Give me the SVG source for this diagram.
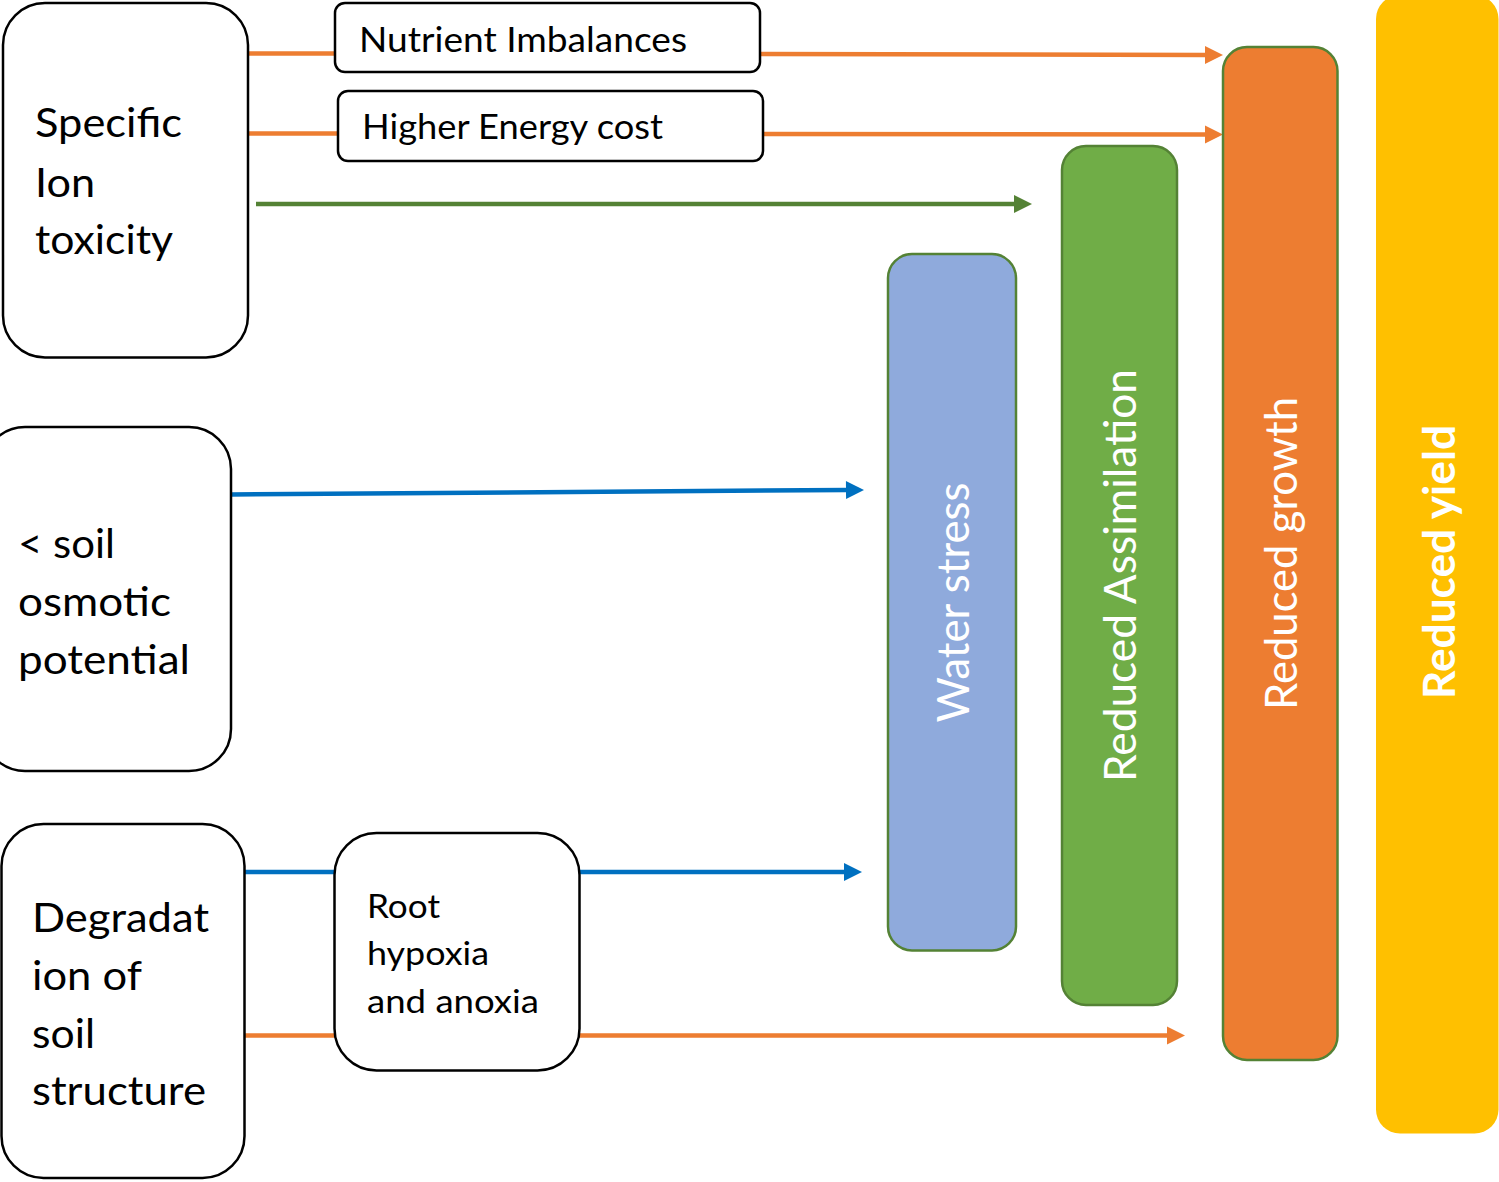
<svg xmlns="http://www.w3.org/2000/svg" width="1499" height="1182" viewBox="0 0 1499 1182">
<style>
.box{fill:#fff;stroke:#000;stroke-width:2.5}
.bar{stroke:#548235;stroke-width:2.5}
.t{font-family:Lato,"Noto Sans","Open Sans",sans-serif;fill:#000}
.big{font-size:40.5px}
.mid{font-size:35px}
.sm{font-size:32px}
.v{font-family:Lato,"Noto Sans","Open Sans",sans-serif;font-size:44.5px;fill:#fff}
.or{stroke:#ED7D31;stroke-width:4.5;fill:none}
.bl{stroke:#0070C0;stroke-width:4.5;fill:none}
.gr{stroke:#548235;stroke-width:4.5;fill:none}
</style>
<defs>
<marker id="aO" markerUnits="userSpaceOnUse" markerWidth="18" markerHeight="18" refX="1" refY="9" orient="auto" overflow="visible"><path d="M0,0 L18,9 L0,18 Z" fill="#ED7D31"/></marker>
<marker id="aB" markerUnits="userSpaceOnUse" markerWidth="18" markerHeight="18" refX="1" refY="9" orient="auto" overflow="visible"><path d="M0,0 L18,9 L0,18 Z" fill="#0070C0"/></marker>
<marker id="aG" markerUnits="userSpaceOnUse" markerWidth="18" markerHeight="18" refX="1" refY="9" orient="auto" overflow="visible"><path d="M0,0 L18,9 L0,18 Z" fill="#548235"/></marker>
</defs>

<g id="connectors">
<line class="or" x1="248" y1="53.5" x2="336" y2="53.5"/>
<line class="or" x1="760" y1="54" x2="1206" y2="55" marker-end="url(#aO)"/>
<line class="or" x1="248" y1="133.5" x2="339" y2="133.5"/>
<line class="or" x1="763" y1="134" x2="1206" y2="134.5" marker-end="url(#aO)"/>
<line class="gr" x1="256" y1="204" x2="1015" y2="204" marker-end="url(#aG)"/>
<line class="bl" x1="231" y1="494.5" x2="847" y2="490" marker-end="url(#aB)"/>
<line class="bl" x1="244" y1="872" x2="335" y2="872"/>
<line class="bl" x1="579" y1="872" x2="845" y2="872" marker-end="url(#aB)"/>
<line class="or" x1="244" y1="1035.5" x2="335" y2="1035.5"/>
<line class="or" x1="579" y1="1035.5" x2="1168" y2="1035.5" marker-end="url(#aO)"/>
</g>

<g id="reduced-yield">
<rect x="1376" y="-5" width="122.5" height="1138.5" rx="24" ry="24" fill="#FFC000"/>
<text class="v" font-weight="bold" transform="translate(1454.5,699) rotate(-90)" textLength="274" lengthAdjust="spacingAndGlyphs">Reduced yield</text>
</g>

<g id="reduced-growth">
<rect class="bar" x="1223" y="47" width="114.5" height="1013" rx="24" ry="24" fill="#ED7D31"/>
<text class="v" transform="translate(1297,710) rotate(-90)" textLength="313" lengthAdjust="spacingAndGlyphs">Reduced growth</text>
</g>

<g id="reduced-assimilation">
<rect class="bar" x="1062" y="146" width="115" height="859" rx="24" ry="24" fill="#70AD47"/>
<text class="v" transform="translate(1136,782) rotate(-90)" textLength="413" lengthAdjust="spacingAndGlyphs">Reduced Assimilation</text>
</g>

<g id="water-stress">
<rect class="bar" x="888" y="254" width="128" height="696.5" rx="24" ry="24" fill="#8FAADC"/>
<text class="v" transform="translate(969,722.5) rotate(-90)" textLength="240" lengthAdjust="spacingAndGlyphs">Water stress</text>
</g>

<g id="specific-ion-toxicity">
<rect class="box" x="3" y="3" width="245" height="354.5" rx="42" ry="42"/>
<text class="t big" x="35" y="137" textLength="147" lengthAdjust="spacingAndGlyphs">Specific</text>
<text class="t big" x="35" y="197" textLength="60" lengthAdjust="spacingAndGlyphs">Ion</text>
<text class="t big" x="35" y="253.5" textLength="138" lengthAdjust="spacingAndGlyphs">toxicity</text>
</g>

<g id="nutrient-imbalances">
<rect class="box" x="335" y="3" width="425" height="69" rx="10" ry="10"/>
<text class="t mid" x="359" y="52" textLength="328" lengthAdjust="spacingAndGlyphs">Nutrient Imbalances</text>
</g>

<g id="higher-energy-cost">
<rect class="box" x="338" y="91" width="425" height="70" rx="10" ry="10"/>
<text class="t mid" x="362" y="138.5" textLength="301" lengthAdjust="spacingAndGlyphs">Higher Energy cost</text>
</g>

<g id="soil-osmotic-potential">
<rect class="box" x="-17" y="427" width="248" height="344" rx="42" ry="42"/>
<text class="t big" x="18" y="557.5" textLength="97" lengthAdjust="spacingAndGlyphs">&lt; soil</text>
<text class="t big" x="18" y="615.5" textLength="153" lengthAdjust="spacingAndGlyphs">osmotic</text>
<text class="t big" x="18" y="673.5" textLength="172" lengthAdjust="spacingAndGlyphs">potential</text>
</g>

<g id="degradation-soil-structure">
<rect class="box" x="1.5" y="824" width="243" height="354" rx="42" ry="42"/>
<text class="t big" x="32" y="931.5" textLength="177" lengthAdjust="spacingAndGlyphs">Degradat</text>
<text class="t big" x="32" y="989.5" textLength="110" lengthAdjust="spacingAndGlyphs">ion of</text>
<text class="t big" x="32" y="1047.5" textLength="63" lengthAdjust="spacingAndGlyphs">soil</text>
<text class="t big" x="32" y="1105" textLength="174" lengthAdjust="spacingAndGlyphs">structure</text>
</g>

<g id="root-hypoxia-anoxia">
<rect class="box" x="334.5" y="833" width="245" height="237.5" rx="42" ry="42"/>
<text class="t sm" x="367" y="917.5" textLength="73" lengthAdjust="spacingAndGlyphs">Root</text>
<text class="t sm" x="367" y="965" textLength="122" lengthAdjust="spacingAndGlyphs">hypoxia</text>
<text class="t sm" x="367" y="1013" textLength="172" lengthAdjust="spacingAndGlyphs">and anoxia</text>
</g>
</svg>
